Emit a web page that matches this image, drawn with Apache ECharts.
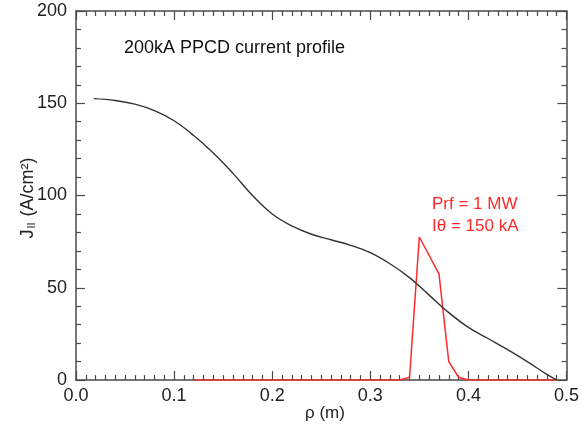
<!DOCTYPE html>
<html><head><meta charset="utf-8">
<script src="https://cdn.jsdelivr.net/npm/echarts@6/dist/echarts.min.js"></script>
<style>html,body{margin:0;padding:0;background:#fff}#c{width:582px;height:431px}</style>
</head><body><div id="c"></div>
<script>
const xTicks = [0.0, 0.1, 0.2, 0.3, 0.4, 0.5];
const yTicks = [0, 50, 100, 150, 200];
const profileRho = [0.018,0.04,0.06,0.08,0.10,0.12,0.14,0.16,0.18,0.20,0.22,0.24,0.26,0.28,0.30,0.32,0.34,0.36,0.38,0.40,0.42,0.44,0.46,0.48,0.49];
const profileJ =   [152.5,151.5,149.5,146,140.5,132.5,123,112,100,90,83.5,79,76,73,69,63,55.5,46,36.5,28.5,22.5,16.5,10,3,0];
const rfRho = [0.12,0.33,0.34,0.35,0.37,0.38,0.39,0.40,0.49];
const rfJ   = [0,0,1.5,77.5,57.5,10,1.5,0,0];
const titleText = '200kA PPCD current profile';
const annot1 = 'Prf = 1 MW';
const annot2 = 'Iθ = 150 kA';

const FONT = '"Liberation Sans", Arial, Helvetica, sans-serif';
const AX = '#4a4a4a';
const chart = echarts.init(document.getElementById('c'));
const pair = (a,b) => a.map((v,i)=>[v,b[i]]);
const baseX = {
  type:'value', min:xTicks[0], max:xTicks[xTicks.length-1], interval:0.1,
  axisLine:{show:true, onZero:false, lineStyle:{color:AX, width:1.5}},
  axisTick:{show:true, inside:true, length:9, lineStyle:{color:AX, width:1.2}},
  minorTick:{show:true, splitNumber:10, length:5, lineStyle:{color:AX, width:1.2}},
  splitLine:{show:false}
};
const baseY = {
  type:'value', min:yTicks[0], max:yTicks[yTicks.length-1], interval:50,
  axisLine:{show:true, onZero:false, lineStyle:{color:AX, width:1.5}},
  axisTick:{show:true, inside:true, length:9, lineStyle:{color:AX, width:1.2}},
  minorTick:{show:true, splitNumber:5, length:5, lineStyle:{color:AX, width:1.2}},
  splitLine:{show:false}
};
chart.setOption({
  animation:false,
  backgroundColor:'#fff',
  grid:{left:76, right:12, top:11, bottom:51},
  xAxis:[
    Object.assign({}, baseX, {position:'bottom',
      axisLabel:{show:true, margin:7, fontSize:18, color:'#222', fontFamily:FONT,
        formatter:v=>v.toFixed(1)}}),
    Object.assign({}, baseX, {position:'top', axisLabel:{show:false}})
  ],
  yAxis:[
    Object.assign({}, baseY, {position:'left',
      axisLabel:{show:true, margin:9, fontSize:18, color:'#222', fontFamily:FONT}}),
    Object.assign({}, baseY, {position:'right', axisLabel:{show:false}})
  ],
  series:[
    {type:'line', data:pair(profileRho, profileJ), smooth:0.4, showSymbol:false,
     lineStyle:{color:'#333', width:1.4}, clip:true, z:3},
    {type:'line', data:pair(rfRho, rfJ), smooth:false, showSymbol:false,
     lineStyle:{color:'#ff2a2a', width:1.5}, clip:true, z:2}
  ],
  graphic:[
    {type:'text', left:124, top:39, style:{text:titleText, font:'18px '+FONT, fill:'#111'}},
    {type:'text', left:432, top:196, style:{text:annot1, font:'17px '+FONT, fill:'#ff2a2a'}},
    {type:'text', left:432, top:218, style:{text:annot2, font:'17px '+FONT, fill:'#ff2a2a'}},
    {type:'text', x:325, y:413, style:{text:'ρ (m)', font:'17px '+FONT, fill:'#222', align:'center', verticalAlign:'middle'}},
    {type:'text', x:28, y:198, rotation:Math.PI/2,
     style:{text:'{a|J}{s|II}{a| (A/cm²)}', align:'center', verticalAlign:'middle',
       rich:{a:{font:'18px '+FONT, fill:'#222'}, s:{font:'11px '+FONT, fill:'#222', padding:[8,1,0,1]}}}}
  ]
});
</script></body></html>
